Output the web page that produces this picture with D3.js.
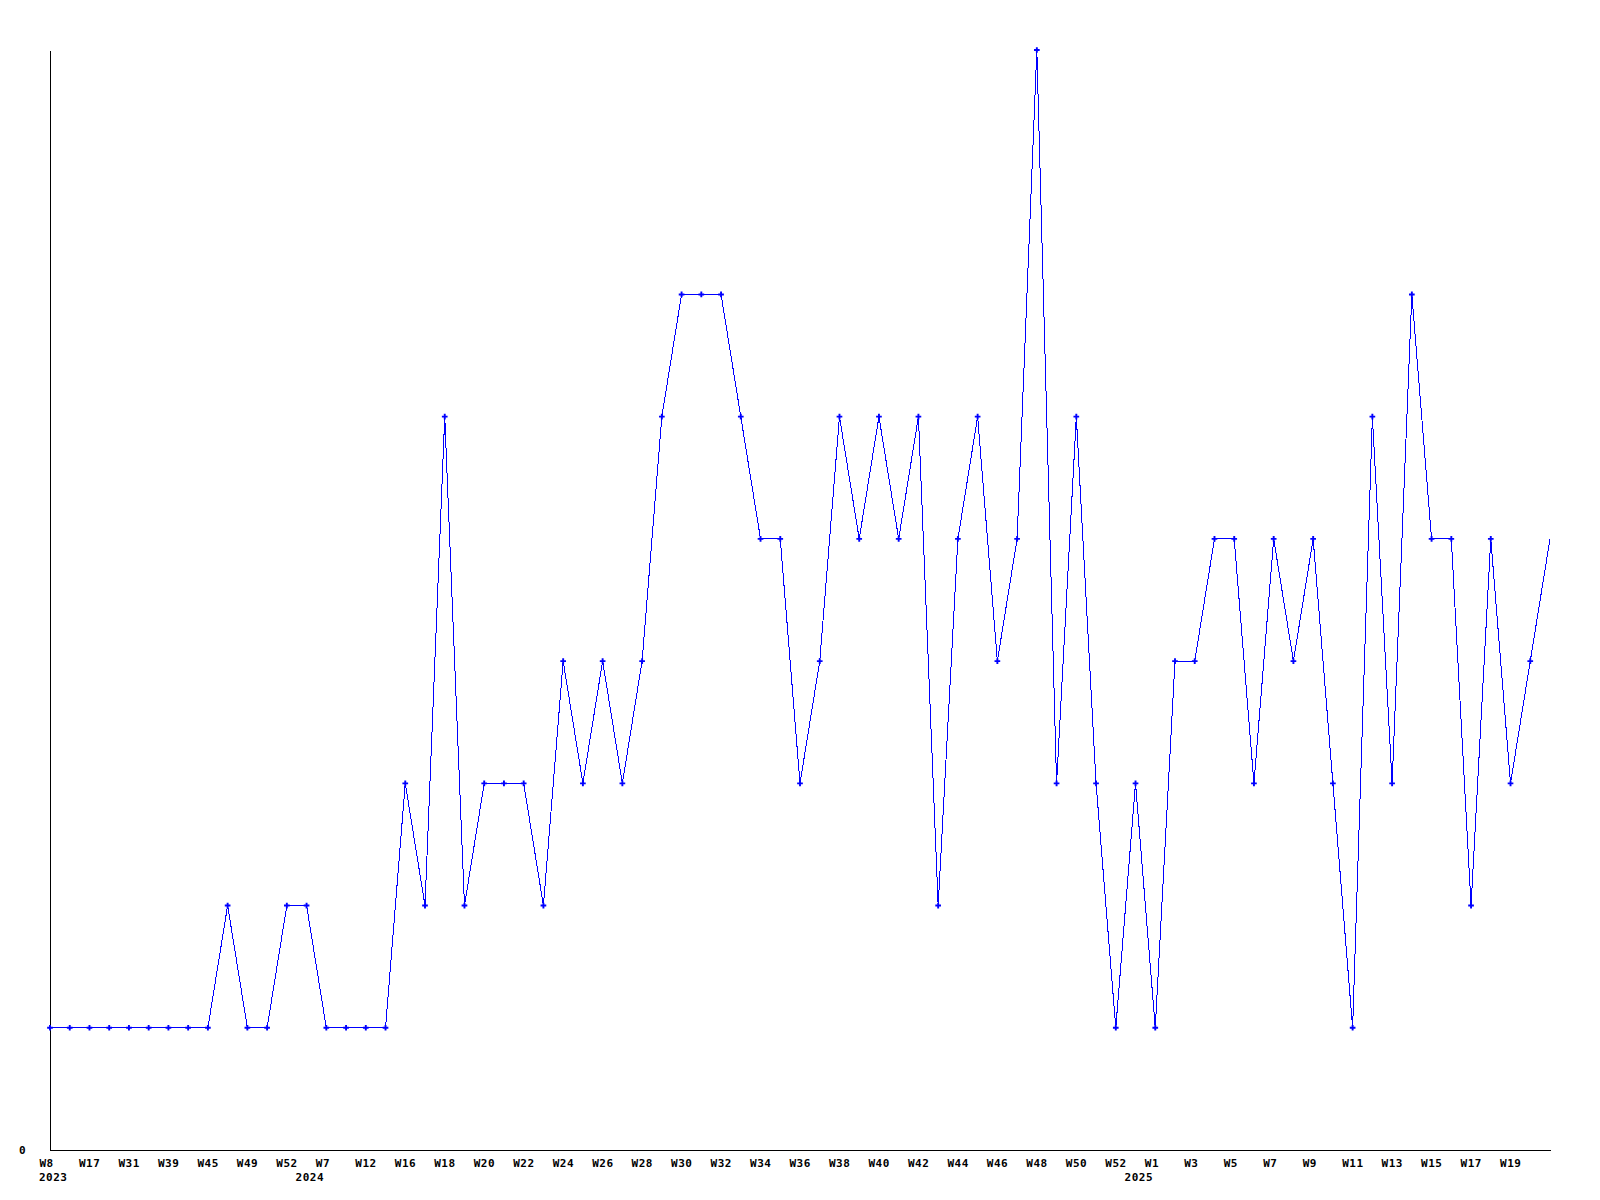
<!DOCTYPE html>
<html>
<head>
<meta charset="utf-8">
<script src="https://cdn.jsdelivr.net/npm/d3@7"></script>
<style>
  html, body { margin: 0; padding: 0; background: #fff; }
  svg { display: block; }
  text { font-family: "DejaVu Sans Mono", "Liberation Mono", monospace; font-weight: bold; font-size: 11px; letter-spacing: 0.5px; fill: #000; }
</style>
</head>
<body>
<svg id="chart" width="1600" height="1200"></svg>
<script>
// Week label for each data point (only every second one is shown on the axis)
const weeks = [
  "W8","W12","W17","W24","W31","W35","W39","W42","W45","W47","W49","W51","W52",
  "W2","W7","W10","W12","W14","W16","W17","W18","W19","W20","W21","W22","W23",
  "W24","W25","W26","W27","W28","W29","W30","W31","W32","W33","W34","W35","W36",
  "W37","W38","W39","W40","W41","W42","W43","W44","W45","W46","W47","W48","W49",
  "W50","W51","W52",
  "W0","W1","W2","W3","W4","W5","W6","W7","W8","W9","W10","W11","W12","W13",
  "W14","W15","W16","W17","W18","W19","W20","W21"
];
// Year of each data point
const years = [
  2023,2023,2023,2023,2023,2023,2023,2023,2023,2023,2023,2023,2023,
  2024,2024,2024,2024,2024,2024,2024,2024,2024,2024,2024,2024,2024,
  2024,2024,2024,2024,2024,2024,2024,2024,2024,2024,2024,2024,2024,
  2024,2024,2024,2024,2024,2024,2024,2024,2024,2024,2024,2024,2024,
  2024,2024,2024,
  2025,2025,2025,2025,2025,2025,2025,2025,2025,2025,2025,2025,2025,2025,
  2025,2025,2025,2025,2025,2025,2025,2025
];
// Count per week
const values = [
  1,1,1,1,1,1,1,1,1,2,1,1,2,
  2,1,1,1,1,3,2,6,2,3,3,3,2,
  4,3,4,3,4,6,7,7,7,6,5,5,3,
  4,6,5,6,5,6,2,5,6,4,5,9,3,
  6,3,1,
  3,1,4,4,5,5,3,5,4,5,3,1,6,3,
  7,5,5,2,5,3,4,5
];
const yTicks = [0];
const yMax = 9;

const svg = d3.select("#chart");
const idx = values.map((_, i) => i);
const last = idx.length - 1;

const x = d3.scalePoint().domain(idx).range([50, 1550]);
const y = d3.scaleLinear().domain([0, yMax]).range([1150, 50]);

// Y axis
const gy = svg.append("g")
  .attr("transform", "translate(50,0)")
  .call(d3.axisLeft(y).tickValues(yTicks).tickFormat(d3.format("d")).tickSize(0).tickSizeOuter(0).tickPadding(24));
gy.attr("font-family", null).attr("font-size", null);
gy.select(".domain").attr("stroke", "#000").attr("shape-rendering", "crispEdges");
gy.selectAll("text").attr("dy", "0.32em");

// X axis (every second point labelled, last point unlabelled)
const labelled = idx.filter(i => i % 2 === 0 && i < last);
const gx = svg.append("g")
  .attr("transform", "translate(0,1150)")
  .call(d3.axisBottom(x).tickValues(labelled).tickFormat(i => weeks[i]).tickSize(0).tickSizeOuter(0));
gx.attr("font-family", null).attr("font-size", null);
gx.select(".domain").attr("stroke", "#000").attr("shape-rendering", "crispEdges");
gx.selectAll("text")
  .attr("text-anchor", "start")
  .attr("x", -11)
  .attr("y", 16.5)
  .attr("dy", null);

// Year labels at the first point of each year
const yearStarts = idx.filter(i => i === 0 || years[i] !== years[i - 1]);
svg.append("g").selectAll("text")
  .data(yearStarts)
  .join("text")
  .attr("x", i => x(i) - 11)
  .attr("y", 1181)
  .text(i => years[i]);

// Line
const line = d3.line().x(i => x(i)).y(i => y(values[i]));
svg.append("path")
  .datum(idx)
  .attr("d", line)
  .attr("fill", "none")
  .attr("stroke", "#0000ff")
  .attr("stroke-width", 1)
  .attr("shape-rendering", "optimizeSpeed");

// Markers (last point has none in the reference)
const sym = d3.symbol(d3.symbolCross, 18);
svg.append("g").selectAll("path")
  .data(idx.slice(0, last))
  .join("path")
  .attr("transform", i => `translate(${x(i)},${y(values[i])})`)
  .attr("d", sym)
  .attr("fill", "#0000ff");
</script>
</body>
</html>
